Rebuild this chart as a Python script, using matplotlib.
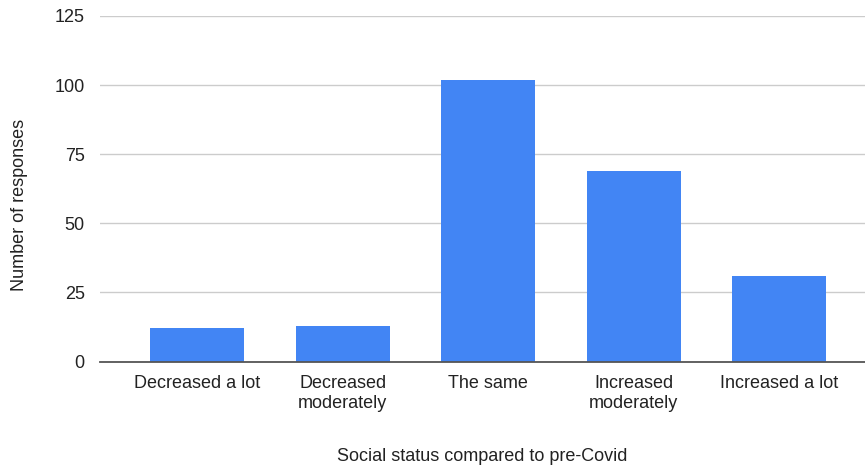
import matplotlib
matplotlib.use("Agg")
import matplotlib.pyplot as plt

categories = ["Decreased a lot", "Decreased\nmoderately", "The same",
              "Increased\nmoderately", "Increased a lot"]
responses = [12, 13, 102, 69, 31]
y_ticks = [0, 25, 50, 75, 100, 125]

plt.rcParams["font.family"] = ["Liberation Sans", "DejaVu Sans"]

fig = plt.figure(figsize=(8.65, 4.65), dpi=100)
ax = fig.add_axes([100 / 865, 103.5 / 465, 765 / 865, (361.5 - 16) / 465])

x = list(range(len(categories)))
ax.bar(x, responses, width=0.645, color="#4285F4", zorder=3)

ax.set_xlim(-0.667, 4.59)
ax.set_ylim(0, 125)
ax.set_yticks(y_ticks)
ax.set_xticks(x)
ax.set_xticklabels(categories, fontsize=13, color="#222222", linespacing=1.2)
ax.tick_params(axis="y", labelsize=13, labelcolor="#222222", length=0, pad=11)
ax.tick_params(axis="x", length=0, pad=10)

ax.grid(axis="y", color="#cccccc", linewidth=1, zorder=0)
for side in ("top", "right", "left"):
    ax.spines[side].set_visible(False)
ax.spines["bottom"].set_color("#555555")
ax.spines["bottom"].set_linewidth(1.3)
ax.spines["bottom"].set_zorder(4)

ax.set_ylabel("Number of responses", fontsize=13, color="#222222")
ax.yaxis.set_label_coords(-72 / 765, 0.454)
ax.set_xlabel("Social status compared to pre-Covid", fontsize=13,
              color="#222222", labelpad=26)

fig.savefig("out.png", dpi=100)
